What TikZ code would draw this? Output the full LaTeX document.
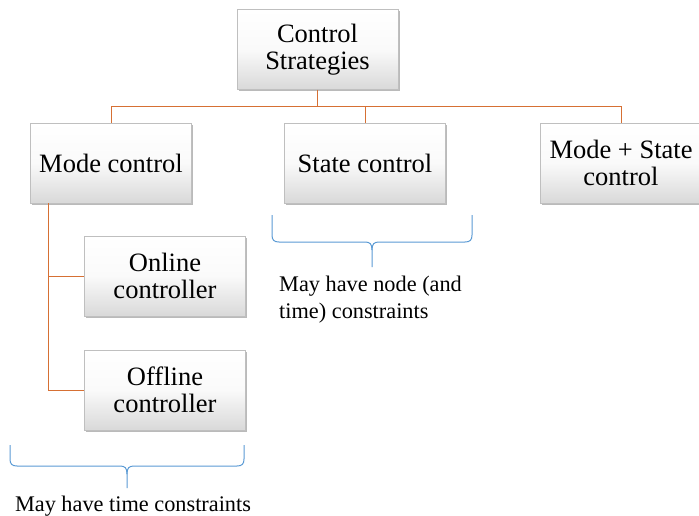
\documentclass[tikz,border=0pt]{standalone}
\usepackage{fontspec}
\setmainfont{Liberation Serif}
\usetikzlibrary{shadows,calc}
\definecolor{conncol}{RGB}{214,112,52}
\definecolor{bracecol}{RGB}{91,155,213}
\tikzset{
  box/.style={draw=black!25, line width=0.4pt, top color=white, bottom color=black!15, middle color=black!2,
    minimum width=161pt, minimum height=80pt, align=center, inner sep=2pt,
    font=\fontsize{26.5}{27}\selectfont,
    drop shadow={shadow xshift=1.5pt, shadow yshift=-2pt, opacity=0.45, fill=black!60}},
  conn/.style={draw=conncol, line width=1pt},
  bracepath/.style={draw=bracecol, line width=1pt},
  note/.style={font=\fontsize{22.3}{27}\selectfont, inner sep=0pt}
}
\begin{document}
\begin{tikzpicture}[x=1pt,y=-1pt]
\useasboundingbox[fill=white] (0,0) rectangle (699,516);
\node[box] (root) at (317.5,49.5) {Control\\Strategies};
\node[box] (mode) at (111,163) {Mode control};
\node[box] (state) at (365,163) {State control};
\node[box] (ms) at (621,163) {Mode + State\\control};
\node[box] (online) at (165,276) {Online\\controller};
\node[box] (offline) at (165,390) {Offline\\controller};
\coordinate (bus) at (0,107);
\draw[conn] (root.south) -- (root.south|-bus) -| (mode.north);
\draw[conn] (root.south|-bus) -| (state.north);
\draw[conn] (root.south|-bus) -| (ms.north);
\coordinate (trunk) at ([xshift=-63pt]mode.south);
\draw[conn] (trunk) |- (online.west);
\draw[conn] (trunk) |- (offline.west);
% brace 1
\coordinate (b1tip) at (127,488);
\draw[bracepath] (10,445) -- (10,459) .. controls (10,464) and (12,466) .. (17,466) -- (120,466) .. controls (125,466) and (127,468) .. (127,474) -- (b1tip);
\draw[bracepath] (244,445) -- (244,459) .. controls (244,464) and (242,466) .. (237,466) -- (134,466) .. controls (129,466) and (127,468) .. (127,474);
% brace 2
\coordinate (b2tip) at (372,267);
\draw[bracepath] (272,215) -- (272,235) .. controls (272,240) and (274,242) .. (279,242) -- (365,242) .. controls (370,242) and (372,244) .. (372,250) -- (b2tip);
\draw[bracepath] (472,215) -- (472,235) .. controls (472,240) and (470,242) .. (465,242) -- (379,242) .. controls (374,242) and (372,244) .. (372,250);
\node[note, anchor=north] (n1) at (133,496) {May have time constraints};
\node[note, anchor=north west, align=left] (n2) at (279,276) {May have node (and\\time) constraints};
\end{tikzpicture}
\end{document}
